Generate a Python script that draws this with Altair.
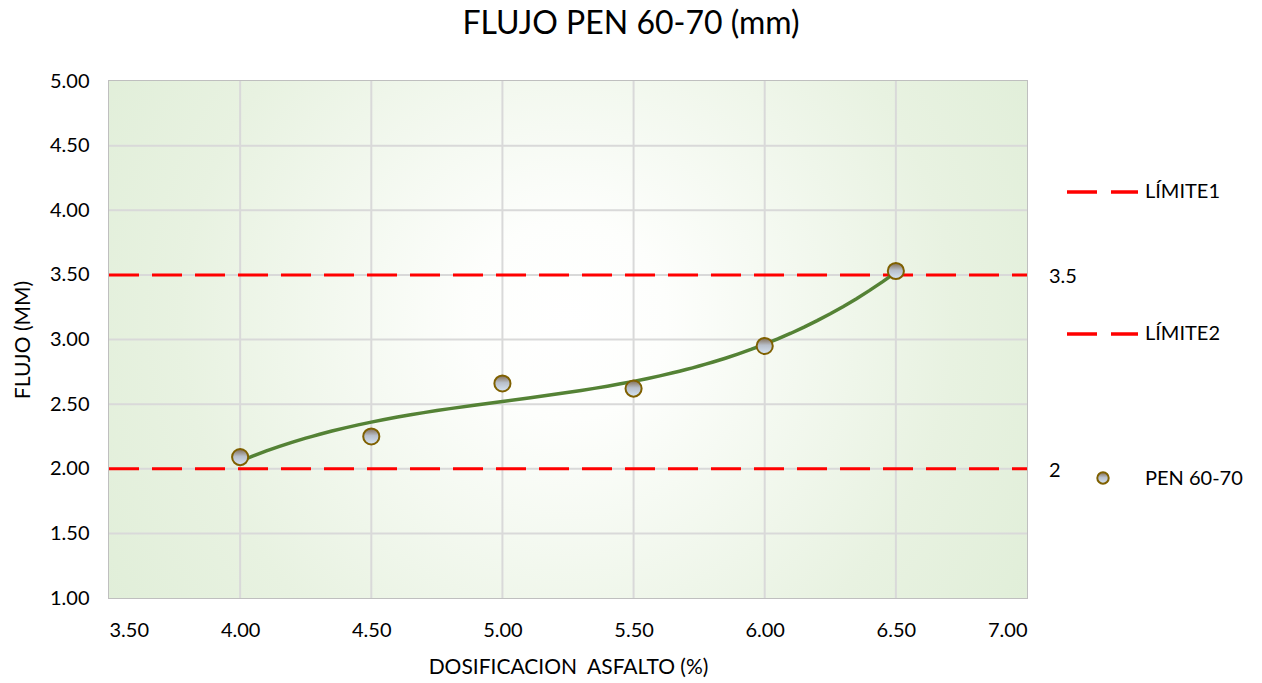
import altair as alt
import pandas as pd

# ---- data ----
dosificacion = [4.0, 4.5, 5.0, 5.5, 6.0, 6.5]
flujo = [2.09, 2.25, 2.66, 2.62, 2.95, 3.53]
limite_x = [3.5, 7.0]
limite1 = 3.5
limite2 = 2.0
x_ticks = [3.5, 4.0, 4.5, 5.0, 5.5, 6.0, 6.5, 7.0]
y_ticks = [1.0, 1.5, 2.0, 2.5, 3.0, 3.5, 4.0, 4.5, 5.0]

FONT = "Lato"
W, H = 918, 517

pts = pd.DataFrame({"x": dosificacion, "y": flujo})
lim = pd.DataFrame({
    "x": limite_x * 2,
    "y": [limite1] * 2 + [limite2] * 2,
    "serie": ["LÍMITE1"] * 2 + ["LÍMITE2"] * 2,
})
lim_lab = pd.DataFrame({"x": [limite_x[1]] * 2, "y": [limite1, limite2],
                        "t": [f"{limite1:g}", f"{limite2:g}"]})
bg = pd.DataFrame({"x": [limite_x[0]], "x2": [limite_x[1]], "y": [y_ticks[0]], "y2": [y_ticks[-1]]})
gx = pd.DataFrame({"v": x_ticks[1:-1]})
gy = pd.DataFrame({"v": y_ticks[1:-1]})

xs = alt.Scale(domain=[3.5, 7.0], nice=False, zero=False)
ys = alt.Scale(domain=[1.0, 5.0], nice=False, zero=False)

axis_style = dict(grid=False, ticks=False, domain=False,
                  labelFont=FONT, titleFont=FONT, labelFontSize=20, titleFontSize=21,
                  labelColor="#000000", titleColor="#000000", titleFontWeight="normal")
xaxis = alt.Axis(values=x_ticks, format=".2f", title="DOSIFICACION\u00a0\u00a0ASFALTO (%)",
                 labelPadding=22, titlePadding=16, **axis_style)
yaxis = alt.Axis(values=y_ticks, format=".2f", title="FLUJO (MM)",
                 labelPadding=20, titlePadding=16, **axis_style)

background = alt.Chart(bg).mark_rect(
    fill=alt.RadialGradient(
        gradient="radial",
        stops=[alt.GradientStop(offset=0, color="#ffffff"),
               alt.GradientStop(offset=0.18, color="#fdfefc"),
               alt.GradientStop(offset=0.7, color="#e8f2e1"),
               alt.GradientStop(offset=1, color="#e0eed8")],
        x1=0.5, y1=0.48, r1=0, x2=0.5, y2=0.48, r2=0.6),
).encode(
    x=alt.X("x:Q", scale=xs, axis=xaxis),
    x2="x2:Q",
    y=alt.Y("y:Q", scale=ys, axis=yaxis),
    y2="y2:Q",
)

grid_x = alt.Chart(gx).mark_rule(color="#d9d9d9", strokeWidth=2).encode(
    x=alt.X("v:Q", scale=xs))
grid_y = alt.Chart(gy).mark_rule(color="#d9d9d9", strokeWidth=2).encode(
    y=alt.Y("v:Q", scale=ys))

lines = alt.Chart(lim).mark_line(color="#ff0000", strokeWidth=3, strokeDash=[30, 13]).encode(
    x=alt.X("x:Q", scale=xs), y=alt.Y("y:Q", scale=ys), detail="serie:N")

lim_text = alt.Chart(lim_lab).mark_text(align="left", baseline="middle", dx=22, dy=2,
                                         font=FONT, fontSize=20, color="#000000").encode(
    x=alt.X("x:Q", scale=xs), y=alt.Y("y:Q", scale=ys), text="t:N")

trend = alt.Chart(pts).transform_regression(
    "x", "y", method="poly", order=3, extent=[dosificacion[0], dosificacion[-1]]
).mark_line(color="#548235", strokeWidth=3.5).encode(
    x=alt.X("x:Q", scale=xs), y=alt.Y("y:Q", scale=ys))

point_fill = alt.LinearGradient(
    gradient="linear",
    stops=[alt.GradientStop(offset=0, color="#7f6a50"),
           alt.GradientStop(offset=0.45, color="#b8bfca"),
           alt.GradientStop(offset=1, color="#d6e4f3")],
    x1=0, y1=0, x2=0, y2=1)

points = alt.Chart(pts).mark_point(filled=True, shape="circle", size=260, fill=point_fill,
                                   stroke="#7f6000", strokeWidth=2, opacity=1).encode(
    x=alt.X("x:Q", scale=xs), y=alt.Y("y:Q", scale=ys))

# ---- manual legend ----
leg1 = alt.Chart(pd.DataFrame({"t": ["LÍMITE1"]})).mark_rule(
    color="#ff0000", strokeWidth=3.5, strokeDash=[30, 14]).encode(
    x=alt.value(958), x2=alt.value(1029), y=alt.value(111))
leg2 = alt.Chart(pd.DataFrame({"t": ["LÍMITE2"]})).mark_rule(
    color="#ff0000", strokeWidth=3.5, strokeDash=[30, 14]).encode(
    x=alt.value(958), x2=alt.value(1029), y=alt.value(253))
leg3 = alt.Chart(pd.DataFrame({"t": ["PEN 60-70"]})).mark_point(
    filled=True, shape="circle", size=130, fill=point_fill, stroke="#7f6000",
    strokeWidth=2, opacity=1).encode(x=alt.value(994), y=alt.value(397))
leg_text = alt.Chart(pd.DataFrame({"t": ["LÍMITE1", "LÍMITE2", "PEN 60-70"],
                                   "py": [111, 253, 398]})).mark_text(
    align="left", baseline="middle", font=FONT, fontSize=20, color="#000000").encode(
    x=alt.value(1036), y=alt.Y("py:Q", scale=None), text="t:N")

chart = alt.layer(background, grid_x, grid_y, lines, lim_text, trend, points,
                  leg1, leg2, leg3, leg_text).properties(
    width=W, height=H,
    title=alt.TitleParams("FLUJO PEN 60-70 (mm)", font=FONT, fontSize=32, fontWeight="normal",
                          color="#000000", anchor="middle", dx=63, offset=30),
    autosize=alt.AutoSizeParams(type="none"),
    padding={"left": 109, "top": 81, "right": 235, "bottom": 85},
    background="#ffffff",
).configure_view(stroke="#bfbfbf", strokeWidth=2)

chart.save("out.html", embed_options={"renderer": "svg", "actions": False})
